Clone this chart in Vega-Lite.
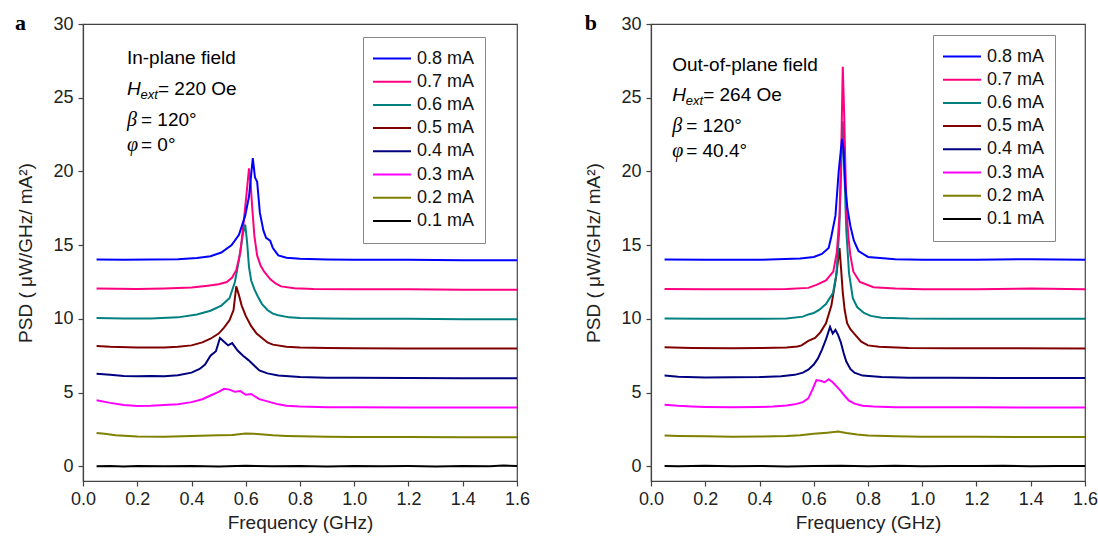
{
"$schema": "https://vega.github.io/schema/vega-lite/v6.json",
"padding": {"left": 14, "top": 11, "right": 5, "bottom": 5},
"background": "white",
"spacing": 134,
"bounds": "flush",
"datasets": {
"a": [
{"c":"0.1 mA","f":0.05,"v":0.0},{"c":"0.1 mA","f":0.1,"v":0.02},{"c":"0.1 mA","f":0.15,"v":-0.02},{"c":"0.1 mA","f":0.2,"v":0.01},{"c":"0.1 mA","f":0.3,"v":0.0},{"c":"0.1 mA","f":0.4,"v":0.02},{"c":"0.1 mA","f":0.5,"v":-0.01},{"c":"0.1 mA","f":0.6,"v":0.03},{"c":"0.1 mA","f":0.7,"v":0.0},{"c":"0.1 mA","f":0.8,"v":0.02},{"c":"0.1 mA","f":0.9,"v":-0.01},{"c":"0.1 mA","f":1.0,"v":0.02},{"c":"0.1 mA","f":1.1,"v":0.0},{"c":"0.1 mA","f":1.2,"v":0.01},{"c":"0.1 mA","f":1.3,"v":-0.01},{"c":"0.1 mA","f":1.4,"v":0.02},{"c":"0.1 mA","f":1.5,"v":0.0},{"c":"0.1 mA","f":1.55,"v":0.05},{"c":"0.1 mA","f":1.6,"v":0.02},
{"c":"0.2 mA","f":0.05,"v":2.25},{"c":"0.2 mA","f":0.08,"v":2.2},{"c":"0.2 mA","f":0.12,"v":2.1},{"c":"0.2 mA","f":0.2,"v":2.02},{"c":"0.2 mA","f":0.3,"v":2.0},{"c":"0.2 mA","f":0.4,"v":2.05},{"c":"0.2 mA","f":0.5,"v":2.1},{"c":"0.2 mA","f":0.55,"v":2.12},{"c":"0.2 mA","f":0.6,"v":2.22},{"c":"0.2 mA","f":0.63,"v":2.2},{"c":"0.2 mA","f":0.7,"v":2.1},{"c":"0.2 mA","f":0.75,"v":2.06},{"c":"0.2 mA","f":0.8,"v":2.03},{"c":"0.2 mA","f":0.9,"v":2.0},{"c":"0.2 mA","f":1.0,"v":1.98},{"c":"0.2 mA","f":1.2,"v":1.98},{"c":"0.2 mA","f":1.4,"v":1.97},{"c":"0.2 mA","f":1.6,"v":1.97},
{"c":"0.3 mA","f":0.05,"v":4.48},{"c":"0.3 mA","f":0.1,"v":4.3},{"c":"0.3 mA","f":0.15,"v":4.15},{"c":"0.3 mA","f":0.2,"v":4.08},{"c":"0.3 mA","f":0.25,"v":4.1},{"c":"0.3 mA","f":0.3,"v":4.15},{"c":"0.3 mA","f":0.35,"v":4.2},{"c":"0.3 mA","f":0.4,"v":4.35},{"c":"0.3 mA","f":0.44,"v":4.55},{"c":"0.3 mA","f":0.47,"v":4.8},{"c":"0.3 mA","f":0.5,"v":5.05},{"c":"0.3 mA","f":0.52,"v":5.25},{"c":"0.3 mA","f":0.54,"v":5.2},{"c":"0.3 mA","f":0.56,"v":5.05},{"c":"0.3 mA","f":0.58,"v":5.1},{"c":"0.3 mA","f":0.6,"v":4.85},{"c":"0.3 mA","f":0.62,"v":4.9},{"c":"0.3 mA","f":0.65,"v":4.55},{"c":"0.3 mA","f":0.68,"v":4.4},{"c":"0.3 mA","f":0.7,"v":4.3},{"c":"0.3 mA","f":0.72,"v":4.2},{"c":"0.3 mA","f":0.75,"v":4.1},{"c":"0.3 mA","f":0.8,"v":4.05},{"c":"0.3 mA","f":0.9,"v":4.0},{"c":"0.3 mA","f":1.0,"v":4.0},{"c":"0.3 mA","f":1.2,"v":3.98},{"c":"0.3 mA","f":1.4,"v":3.98},{"c":"0.3 mA","f":1.6,"v":3.98},
{"c":"0.4 mA","f":0.05,"v":6.28},{"c":"0.4 mA","f":0.1,"v":6.2},{"c":"0.4 mA","f":0.15,"v":6.12},{"c":"0.4 mA","f":0.2,"v":6.1},{"c":"0.4 mA","f":0.25,"v":6.12},{"c":"0.4 mA","f":0.3,"v":6.1},{"c":"0.4 mA","f":0.35,"v":6.18},{"c":"0.4 mA","f":0.4,"v":6.35},{"c":"0.4 mA","f":0.43,"v":6.6},{"c":"0.4 mA","f":0.45,"v":6.9},{"c":"0.4 mA","f":0.47,"v":7.5},{"c":"0.4 mA","f":0.49,"v":7.8},{"c":"0.4 mA","f":0.505,"v":8.7},{"c":"0.4 mA","f":0.52,"v":8.45},{"c":"0.4 mA","f":0.535,"v":8.2},{"c":"0.4 mA","f":0.55,"v":8.35},{"c":"0.4 mA","f":0.57,"v":7.85},{"c":"0.4 mA","f":0.59,"v":7.5},{"c":"0.4 mA","f":0.61,"v":7.2},{"c":"0.4 mA","f":0.63,"v":6.85},{"c":"0.4 mA","f":0.65,"v":6.5},{"c":"0.4 mA","f":0.68,"v":6.3},{"c":"0.4 mA","f":0.72,"v":6.15},{"c":"0.4 mA","f":0.8,"v":6.05},{"c":"0.4 mA","f":0.9,"v":6.0},{"c":"0.4 mA","f":1.0,"v":6.0},{"c":"0.4 mA","f":1.2,"v":5.98},{"c":"0.4 mA","f":1.4,"v":5.97},{"c":"0.4 mA","f":1.6,"v":5.97},
{"c":"0.5 mA","f":0.05,"v":8.15},{"c":"0.5 mA","f":0.1,"v":8.1},{"c":"0.5 mA","f":0.2,"v":8.05},{"c":"0.5 mA","f":0.3,"v":8.05},{"c":"0.5 mA","f":0.35,"v":8.1},{"c":"0.5 mA","f":0.4,"v":8.2},{"c":"0.5 mA","f":0.44,"v":8.4},{"c":"0.5 mA","f":0.47,"v":8.65},{"c":"0.5 mA","f":0.5,"v":9.0},{"c":"0.5 mA","f":0.52,"v":9.4},{"c":"0.5 mA","f":0.54,"v":9.9},{"c":"0.5 mA","f":0.555,"v":10.6},{"c":"0.5 mA","f":0.565,"v":12.2},{"c":"0.5 mA","f":0.575,"v":11.6},{"c":"0.5 mA","f":0.585,"v":10.9},{"c":"0.5 mA","f":0.6,"v":10.2},{"c":"0.5 mA","f":0.62,"v":9.5},{"c":"0.5 mA","f":0.64,"v":9.0},{"c":"0.5 mA","f":0.66,"v":8.7},{"c":"0.5 mA","f":0.68,"v":8.4},{"c":"0.5 mA","f":0.7,"v":8.25},{"c":"0.5 mA","f":0.75,"v":8.1},{"c":"0.5 mA","f":0.8,"v":8.05},{"c":"0.5 mA","f":0.9,"v":8.02},{"c":"0.5 mA","f":1.0,"v":8.0},{"c":"0.5 mA","f":1.2,"v":7.98},{"c":"0.5 mA","f":1.4,"v":7.98},{"c":"0.5 mA","f":1.6,"v":7.98},
{"c":"0.6 mA","f":0.05,"v":10.06},{"c":"0.6 mA","f":0.15,"v":10.03},{"c":"0.6 mA","f":0.25,"v":10.02},{"c":"0.6 mA","f":0.35,"v":10.1},{"c":"0.6 mA","f":0.42,"v":10.3},{"c":"0.6 mA","f":0.47,"v":10.55},{"c":"0.6 mA","f":0.51,"v":10.9},{"c":"0.6 mA","f":0.54,"v":11.4},{"c":"0.6 mA","f":0.56,"v":12.5},{"c":"0.6 mA","f":0.575,"v":14.0},{"c":"0.6 mA","f":0.59,"v":15.8},{"c":"0.6 mA","f":0.598,"v":16.4},{"c":"0.6 mA","f":0.605,"v":15.2},{"c":"0.6 mA","f":0.612,"v":13.5},{"c":"0.6 mA","f":0.62,"v":12.6},{"c":"0.6 mA","f":0.632,"v":12.0},{"c":"0.6 mA","f":0.645,"v":11.5},{"c":"0.6 mA","f":0.66,"v":11.0},{"c":"0.6 mA","f":0.68,"v":10.6},{"c":"0.6 mA","f":0.7,"v":10.35},{"c":"0.6 mA","f":0.72,"v":10.25},{"c":"0.6 mA","f":0.76,"v":10.1},{"c":"0.6 mA","f":0.8,"v":10.05},{"c":"0.6 mA","f":0.9,"v":10.02},{"c":"0.6 mA","f":1.0,"v":10.0},{"c":"0.6 mA","f":1.2,"v":10.0},{"c":"0.6 mA","f":1.4,"v":9.98},{"c":"0.6 mA","f":1.6,"v":9.98},
{"c":"0.7 mA","f":0.05,"v":12.05},{"c":"0.7 mA","f":0.2,"v":12.02},{"c":"0.7 mA","f":0.3,"v":12.05},{"c":"0.7 mA","f":0.4,"v":12.12},{"c":"0.7 mA","f":0.46,"v":12.25},{"c":"0.7 mA","f":0.5,"v":12.35},{"c":"0.7 mA","f":0.53,"v":12.5},{"c":"0.7 mA","f":0.55,"v":12.8},{"c":"0.7 mA","f":0.565,"v":13.3},{"c":"0.7 mA","f":0.58,"v":14.5},{"c":"0.7 mA","f":0.592,"v":16.5},{"c":"0.7 mA","f":0.603,"v":18.5},{"c":"0.7 mA","f":0.612,"v":20.2},{"c":"0.7 mA","f":0.618,"v":19.2},{"c":"0.7 mA","f":0.624,"v":17.5},{"c":"0.7 mA","f":0.632,"v":15.6},{"c":"0.7 mA","f":0.642,"v":14.3},{"c":"0.7 mA","f":0.655,"v":13.6},{"c":"0.7 mA","f":0.668,"v":13.2},{"c":"0.7 mA","f":0.69,"v":12.7},{"c":"0.7 mA","f":0.71,"v":12.4},{"c":"0.7 mA","f":0.73,"v":12.2},{"c":"0.7 mA","f":0.78,"v":12.08},{"c":"0.7 mA","f":0.85,"v":12.03},{"c":"0.7 mA","f":1.0,"v":12.0},{"c":"0.7 mA","f":1.2,"v":12.0},{"c":"0.7 mA","f":1.4,"v":11.98},{"c":"0.7 mA","f":1.6,"v":11.98},
{"c":"0.8 mA","f":0.05,"v":14.03},{"c":"0.8 mA","f":0.15,"v":14.0},{"c":"0.8 mA","f":0.25,"v":14.02},{"c":"0.8 mA","f":0.35,"v":14.05},{"c":"0.8 mA","f":0.42,"v":14.12},{"c":"0.8 mA","f":0.47,"v":14.25},{"c":"0.8 mA","f":0.51,"v":14.5},{"c":"0.8 mA","f":0.548,"v":15.0},{"c":"0.8 mA","f":0.575,"v":15.7},{"c":"0.8 mA","f":0.598,"v":17.0},{"c":"0.8 mA","f":0.612,"v":18.3},{"c":"0.8 mA","f":0.626,"v":20.9},{"c":"0.8 mA","f":0.634,"v":19.6},{"c":"0.8 mA","f":0.642,"v":19.3},{"c":"0.8 mA","f":0.652,"v":17.2},{"c":"0.8 mA","f":0.665,"v":16.0},{"c":"0.8 mA","f":0.675,"v":15.5},{"c":"0.8 mA","f":0.69,"v":15.3},{"c":"0.8 mA","f":0.7,"v":14.8},{"c":"0.8 mA","f":0.72,"v":14.3},{"c":"0.8 mA","f":0.75,"v":14.15},{"c":"0.8 mA","f":0.8,"v":14.08},{"c":"0.8 mA","f":0.9,"v":14.03},{"c":"0.8 mA","f":1.0,"v":14.0},{"c":"0.8 mA","f":1.2,"v":14.0},{"c":"0.8 mA","f":1.4,"v":13.98},{"c":"0.8 mA","f":1.6,"v":13.98}
],
"b": [
{"c":"0.1 mA","f":0.05,"v":0.02},{"c":"0.1 mA","f":0.1,"v":0.0},{"c":"0.1 mA","f":0.2,"v":0.03},{"c":"0.1 mA","f":0.3,"v":0.0},{"c":"0.1 mA","f":0.4,"v":0.02},{"c":"0.1 mA","f":0.5,"v":-0.01},{"c":"0.1 mA","f":0.6,"v":0.02},{"c":"0.1 mA","f":0.7,"v":0.04},{"c":"0.1 mA","f":0.8,"v":0.0},{"c":"0.1 mA","f":0.9,"v":0.03},{"c":"0.1 mA","f":1.0,"v":0.0},{"c":"0.1 mA","f":1.1,"v":0.02},{"c":"0.1 mA","f":1.2,"v":0.01},{"c":"0.1 mA","f":1.3,"v":0.03},{"c":"0.1 mA","f":1.4,"v":0.0},{"c":"0.1 mA","f":1.5,"v":0.02},{"c":"0.1 mA","f":1.6,"v":0.01},
{"c":"0.2 mA","f":0.05,"v":2.08},{"c":"0.2 mA","f":0.1,"v":2.05},{"c":"0.2 mA","f":0.2,"v":2.03},{"c":"0.2 mA","f":0.3,"v":2.0},{"c":"0.2 mA","f":0.4,"v":2.02},{"c":"0.2 mA","f":0.5,"v":2.05},{"c":"0.2 mA","f":0.55,"v":2.1},{"c":"0.2 mA","f":0.6,"v":2.2},{"c":"0.2 mA","f":0.65,"v":2.28},{"c":"0.2 mA","f":0.69,"v":2.35},{"c":"0.2 mA","f":0.72,"v":2.25},{"c":"0.2 mA","f":0.76,"v":2.15},{"c":"0.2 mA","f":0.8,"v":2.08},{"c":"0.2 mA","f":0.9,"v":2.03},{"c":"0.2 mA","f":1.0,"v":2.0},{"c":"0.2 mA","f":1.2,"v":2.0},{"c":"0.2 mA","f":1.4,"v":1.98},{"c":"0.2 mA","f":1.6,"v":1.98},
{"c":"0.3 mA","f":0.05,"v":4.18},{"c":"0.3 mA","f":0.1,"v":4.1},{"c":"0.3 mA","f":0.15,"v":4.05},{"c":"0.3 mA","f":0.2,"v":4.02},{"c":"0.3 mA","f":0.3,"v":4.0},{"c":"0.3 mA","f":0.4,"v":4.02},{"c":"0.3 mA","f":0.45,"v":4.05},{"c":"0.3 mA","f":0.5,"v":4.12},{"c":"0.3 mA","f":0.53,"v":4.2},{"c":"0.3 mA","f":0.56,"v":4.35},{"c":"0.3 mA","f":0.58,"v":4.6},{"c":"0.3 mA","f":0.595,"v":5.2},{"c":"0.3 mA","f":0.61,"v":5.85},{"c":"0.3 mA","f":0.625,"v":5.8},{"c":"0.3 mA","f":0.64,"v":5.7},{"c":"0.3 mA","f":0.655,"v":5.9},{"c":"0.3 mA","f":0.67,"v":5.7},{"c":"0.3 mA","f":0.685,"v":5.4},{"c":"0.3 mA","f":0.7,"v":5.1},{"c":"0.3 mA","f":0.715,"v":4.75},{"c":"0.3 mA","f":0.73,"v":4.45},{"c":"0.3 mA","f":0.75,"v":4.25},{"c":"0.3 mA","f":0.78,"v":4.1},{"c":"0.3 mA","f":0.82,"v":4.05},{"c":"0.3 mA","f":0.9,"v":4.0},{"c":"0.3 mA","f":1.0,"v":4.0},{"c":"0.3 mA","f":1.2,"v":4.0},{"c":"0.3 mA","f":1.4,"v":3.98},{"c":"0.3 mA","f":1.6,"v":3.98},
{"c":"0.4 mA","f":0.05,"v":6.15},{"c":"0.4 mA","f":0.1,"v":6.08},{"c":"0.4 mA","f":0.2,"v":6.02},{"c":"0.4 mA","f":0.3,"v":6.03},{"c":"0.4 mA","f":0.4,"v":6.05},{"c":"0.4 mA","f":0.48,"v":6.1},{"c":"0.4 mA","f":0.53,"v":6.2},{"c":"0.4 mA","f":0.56,"v":6.35},{"c":"0.4 mA","f":0.58,"v":6.55},{"c":"0.4 mA","f":0.6,"v":6.9},{"c":"0.4 mA","f":0.615,"v":7.3},{"c":"0.4 mA","f":0.63,"v":7.9},{"c":"0.4 mA","f":0.645,"v":8.6},{"c":"0.4 mA","f":0.66,"v":9.45},{"c":"0.4 mA","f":0.67,"v":9.0},{"c":"0.4 mA","f":0.68,"v":9.25},{"c":"0.4 mA","f":0.69,"v":8.9},{"c":"0.4 mA","f":0.7,"v":8.4},{"c":"0.4 mA","f":0.71,"v":7.7},{"c":"0.4 mA","f":0.72,"v":7.1},{"c":"0.4 mA","f":0.735,"v":6.6},{"c":"0.4 mA","f":0.75,"v":6.35},{"c":"0.4 mA","f":0.78,"v":6.15},{"c":"0.4 mA","f":0.85,"v":6.05},{"c":"0.4 mA","f":0.95,"v":6.0},{"c":"0.4 mA","f":1.1,"v":6.0},{"c":"0.4 mA","f":1.3,"v":5.99},{"c":"0.4 mA","f":1.6,"v":5.98},
{"c":"0.5 mA","f":0.05,"v":8.08},{"c":"0.5 mA","f":0.15,"v":8.03},{"c":"0.5 mA","f":0.3,"v":8.0},{"c":"0.5 mA","f":0.4,"v":8.02},{"c":"0.5 mA","f":0.5,"v":8.05},{"c":"0.5 mA","f":0.54,"v":8.12},{"c":"0.5 mA","f":0.555,"v":8.2},{"c":"0.5 mA","f":0.58,"v":8.5},{"c":"0.5 mA","f":0.605,"v":8.7},{"c":"0.5 mA","f":0.625,"v":9.1},{"c":"0.5 mA","f":0.645,"v":9.7},{"c":"0.5 mA","f":0.665,"v":10.9},{"c":"0.5 mA","f":0.682,"v":12.8},{"c":"0.5 mA","f":0.695,"v":14.8},{"c":"0.5 mA","f":0.7,"v":13.6},{"c":"0.5 mA","f":0.707,"v":11.8},{"c":"0.5 mA","f":0.714,"v":10.6},{"c":"0.5 mA","f":0.723,"v":9.7},{"c":"0.5 mA","f":0.735,"v":9.3},{"c":"0.5 mA","f":0.749,"v":9.0},{"c":"0.5 mA","f":0.775,"v":8.45},{"c":"0.5 mA","f":0.8,"v":8.2},{"c":"0.5 mA","f":0.84,"v":8.1},{"c":"0.5 mA","f":0.95,"v":8.02},{"c":"0.5 mA","f":1.1,"v":8.0},{"c":"0.5 mA","f":1.3,"v":8.0},{"c":"0.5 mA","f":1.6,"v":7.98},
{"c":"0.6 mA","f":0.05,"v":10.02},{"c":"0.6 mA","f":0.2,"v":10.0},{"c":"0.6 mA","f":0.35,"v":10.0},{"c":"0.6 mA","f":0.5,"v":10.03},{"c":"0.6 mA","f":0.56,"v":10.15},{"c":"0.6 mA","f":0.58,"v":10.3},{"c":"0.6 mA","f":0.6,"v":10.4},{"c":"0.6 mA","f":0.62,"v":10.6},{"c":"0.6 mA","f":0.645,"v":11.0},{"c":"0.6 mA","f":0.671,"v":11.75},{"c":"0.6 mA","f":0.684,"v":13.1},{"c":"0.6 mA","f":0.694,"v":16.0},{"c":"0.6 mA","f":0.701,"v":20.0},{"c":"0.6 mA","f":0.707,"v":23.4},{"c":"0.6 mA","f":0.713,"v":20.0},{"c":"0.6 mA","f":0.72,"v":16.0},{"c":"0.6 mA","f":0.73,"v":13.1},{"c":"0.6 mA","f":0.744,"v":11.4},{"c":"0.6 mA","f":0.76,"v":10.8},{"c":"0.6 mA","f":0.785,"v":10.4},{"c":"0.6 mA","f":0.81,"v":10.2},{"c":"0.6 mA","f":0.85,"v":10.08},{"c":"0.6 mA","f":0.95,"v":10.02},{"c":"0.6 mA","f":1.1,"v":10.0},{"c":"0.6 mA","f":1.3,"v":10.0},{"c":"0.6 mA","f":1.6,"v":10.0},
{"c":"0.7 mA","f":0.05,"v":12.02},{"c":"0.7 mA","f":0.2,"v":12.0},{"c":"0.7 mA","f":0.35,"v":12.0},{"c":"0.7 mA","f":0.5,"v":12.02},{"c":"0.7 mA","f":0.58,"v":12.1},{"c":"0.7 mA","f":0.61,"v":12.3},{"c":"0.7 mA","f":0.645,"v":12.6},{"c":"0.7 mA","f":0.672,"v":13.2},{"c":"0.7 mA","f":0.685,"v":14.5},{"c":"0.7 mA","f":0.695,"v":17.0},{"c":"0.7 mA","f":0.701,"v":21.0},{"c":"0.7 mA","f":0.707,"v":27.1},{"c":"0.7 mA","f":0.712,"v":24.0},{"c":"0.7 mA","f":0.717,"v":20.0},{"c":"0.7 mA","f":0.722,"v":17.0},{"c":"0.7 mA","f":0.728,"v":15.5},{"c":"0.7 mA","f":0.735,"v":14.3},{"c":"0.7 mA","f":0.746,"v":13.2},{"c":"0.7 mA","f":0.77,"v":12.5},{"c":"0.7 mA","f":0.82,"v":12.15},{"c":"0.7 mA","f":0.9,"v":12.05},{"c":"0.7 mA","f":1.0,"v":12.0},{"c":"0.7 mA","f":1.2,"v":12.0},{"c":"0.7 mA","f":1.4,"v":12.05},{"c":"0.7 mA","f":1.6,"v":12.0},
{"c":"0.8 mA","f":0.05,"v":14.02},{"c":"0.8 mA","f":0.2,"v":14.0},{"c":"0.8 mA","f":0.4,"v":14.0},{"c":"0.8 mA","f":0.55,"v":14.1},{"c":"0.8 mA","f":0.6,"v":14.2},{"c":"0.8 mA","f":0.63,"v":14.4},{"c":"0.8 mA","f":0.655,"v":14.8},{"c":"0.8 mA","f":0.665,"v":15.6},{"c":"0.8 mA","f":0.68,"v":17.0},{"c":"0.8 mA","f":0.692,"v":20.0},{"c":"0.8 mA","f":0.704,"v":22.2},{"c":"0.8 mA","f":0.71,"v":21.5},{"c":"0.8 mA","f":0.716,"v":19.0},{"c":"0.8 mA","f":0.724,"v":17.5},{"c":"0.8 mA","f":0.735,"v":16.3},{"c":"0.8 mA","f":0.748,"v":15.3},{"c":"0.8 mA","f":0.765,"v":14.6},{"c":"0.8 mA","f":0.8,"v":14.2},{"c":"0.8 mA","f":0.9,"v":14.05},{"c":"0.8 mA","f":1.0,"v":14.0},{"c":"0.8 mA","f":1.2,"v":14.0},{"c":"0.8 mA","f":1.4,"v":14.05},{"c":"0.8 mA","f":1.6,"v":14.0}
]
},
"hconcat": [
{
"width": 434, "height": 457,
"layer": [
{"data": {"name": "a"},
 "mark": {"type": "line", "strokeWidth": 2, "clip": true},
 "encoding": {
  "x": {"field": "f", "type": "quantitative", "scale": {"domain": [0, 1.6], "nice": false, "zero": false},
   "axis": {"title": "Frequency (GHz)", "values": [0,0.1,0.2,0.3,0.4,0.5,0.6,0.7,0.8,0.9,1.0,1.1,1.2,1.3,1.4,1.5,1.6],
    "labelExpr": "round(datum.value*10) % 2 === 0 ? format(datum.value, '.1f') : ''",
    "tickSize": {"condition": {"test": "round(datum.value*10) % 2 === 0", "value": 5}, "value": 3}}},
  "y": {"field": "v", "type": "quantitative", "scale": {"domain": [-1, 30], "nice": false, "zero": false},
   "axis": {"title": "PSD ( μW/GHz/ mA²)", "values": [0,2.5,5,7.5,10,12.5,15,17.5,20,22.5,25,27.5,30],
    "labelExpr": "datum.value % 5 === 0 ? format(datum.value, 'd') : ''",
    "tickSize": {"condition": {"test": "datum.value % 5 === 0", "value": 5}, "value": 3}}},
  "color": {"field": "c", "type": "nominal",
   "scale": {"domain": ["0.8 mA","0.7 mA","0.6 mA","0.5 mA","0.4 mA","0.3 mA","0.2 mA","0.1 mA"],
             "range": ["#0000FF","#FF0080","#008080","#800000","#000080","#FF00FF","#808000","#000000"]},
   "legend": {"orient": "none", "legendX": 280, "legendY": 13}}
 }},
{"data": {"values": [{}]}, "mark": {"type": "text", "font": "Liberation Serif", "fontWeight": "bold", "fontSize": 22, "align": "center", "baseline": "alphabetic"},
 "encoding": {"x": {"datum": -0.23}, "y": {"datum": 29.6}, "text": {"value": "a"}}},
{"data": {"values": [{}]}, "mark": {"type": "text", "font": "Liberation Sans", "fontSize": 19, "align": "left", "baseline": "middle"},
 "encoding": {"x": {"datum": 0.162}, "y": {"datum": 27.7}, "text": {"value": "In-plane field"}}},
{"data": {"values": [{}]}, "mark": {"type": "text", "font": "Liberation Sans", "fontSize": 19, "fontStyle": "italic", "align": "left", "baseline": "middle"},
 "encoding": {"x": {"datum": 0.162}, "y": {"datum": 25.6}, "text": {"value": "H"}}},
{"data": {"values": [{}]}, "mark": {"type": "text", "font": "Liberation Sans", "fontSize": 13, "fontStyle": "italic", "align": "left", "baseline": "middle", "dx": 13.5, "dy": 6.5},
 "encoding": {"x": {"datum": 0.162}, "y": {"datum": 25.6}, "text": {"value": "ext"}}},
{"data": {"values": [{}]}, "mark": {"type": "text", "font": "Liberation Sans", "fontSize": 19, "align": "left", "baseline": "middle", "dx": 31},
 "encoding": {"x": {"datum": 0.162}, "y": {"datum": 25.6}, "text": {"value": "= 220 Oe"}}},
{"data": {"values": [{}]}, "mark": {"type": "text", "font": "Liberation Serif", "fontSize": 20, "fontStyle": "italic", "align": "left", "baseline": "middle"},
 "encoding": {"x": {"datum": 0.162}, "y": {"datum": 23.5}, "text": {"value": "β"}}},
{"data": {"values": [{}]}, "mark": {"type": "text", "font": "Liberation Sans", "fontSize": 19, "align": "left", "baseline": "middle", "dx": 14},
 "encoding": {"x": {"datum": 0.162}, "y": {"datum": 23.5}, "text": {"value": "= 120°"}}},
{"data": {"values": [{}]}, "mark": {"type": "text", "font": "Liberation Serif", "fontSize": 20, "fontStyle": "italic", "align": "left", "baseline": "middle"},
 "encoding": {"x": {"datum": 0.162}, "y": {"datum": 21.8}, "text": {"value": "φ"}}},
{"data": {"values": [{}]}, "mark": {"type": "text", "font": "Liberation Sans", "fontSize": 19, "align": "left", "baseline": "middle", "dx": 14},
 "encoding": {"x": {"datum": 0.162}, "y": {"datum": 21.8}, "text": {"value": "= 0°"}}}
]
},
{
"width": 434, "height": 457,
"layer": [
{"data": {"name": "b"},
 "mark": {"type": "line", "strokeWidth": 2, "clip": true},
 "encoding": {
  "x": {"field": "f", "type": "quantitative", "scale": {"domain": [0, 1.6], "nice": false, "zero": false},
   "axis": {"title": "Frequency (GHz)", "values": [0,0.1,0.2,0.3,0.4,0.5,0.6,0.7,0.8,0.9,1.0,1.1,1.2,1.3,1.4,1.5,1.6],
    "labelExpr": "round(datum.value*10) % 2 === 0 ? format(datum.value, '.1f') : ''",
    "tickSize": {"condition": {"test": "round(datum.value*10) % 2 === 0", "value": 5}, "value": 3}}},
  "y": {"field": "v", "type": "quantitative", "scale": {"domain": [-1, 30], "nice": false, "zero": false},
   "axis": {"title": "PSD ( μW/GHz/ mA²)", "values": [0,2.5,5,7.5,10,12.5,15,17.5,20,22.5,25,27.5,30],
    "labelExpr": "datum.value % 5 === 0 ? format(datum.value, 'd') : ''",
    "tickSize": {"condition": {"test": "datum.value % 5 === 0", "value": 5}, "value": 3}}},
  "color": {"field": "c", "type": "nominal",
   "scale": {"domain": ["0.8 mA","0.7 mA","0.6 mA","0.5 mA","0.4 mA","0.3 mA","0.2 mA","0.1 mA"],
             "range": ["#0000FF","#FF0080","#008080","#800000","#000080","#FF00FF","#808000","#000000"]},
   "legend": {"orient": "none", "legendX": 282, "legendY": 11}}
 }},
{"data": {"values": [{}]}, "mark": {"type": "text", "font": "Liberation Serif", "fontWeight": "bold", "fontSize": 22, "align": "center", "baseline": "alphabetic"},
 "encoding": {"x": {"datum": -0.222}, "y": {"datum": 29.6}, "text": {"value": "b"}}},
{"data": {"values": [{}]}, "mark": {"type": "text", "font": "Liberation Sans", "fontSize": 19, "align": "left", "baseline": "middle"},
 "encoding": {"x": {"datum": 0.078}, "y": {"datum": 27.2}, "text": {"value": "Out-of-plane field"}}},
{"data": {"values": [{}]}, "mark": {"type": "text", "font": "Liberation Sans", "fontSize": 19, "fontStyle": "italic", "align": "left", "baseline": "middle"},
 "encoding": {"x": {"datum": 0.078}, "y": {"datum": 25.2}, "text": {"value": "H"}}},
{"data": {"values": [{}]}, "mark": {"type": "text", "font": "Liberation Sans", "fontSize": 13, "fontStyle": "italic", "align": "left", "baseline": "middle", "dx": 13.5, "dy": 6.5},
 "encoding": {"x": {"datum": 0.078}, "y": {"datum": 25.2}, "text": {"value": "ext"}}},
{"data": {"values": [{}]}, "mark": {"type": "text", "font": "Liberation Sans", "fontSize": 19, "align": "left", "baseline": "middle", "dx": 31},
 "encoding": {"x": {"datum": 0.078}, "y": {"datum": 25.2}, "text": {"value": "= 264 Oe"}}},
{"data": {"values": [{}]}, "mark": {"type": "text", "font": "Liberation Serif", "fontSize": 20, "fontStyle": "italic", "align": "left", "baseline": "middle"},
 "encoding": {"x": {"datum": 0.078}, "y": {"datum": 23.1}, "text": {"value": "β"}}},
{"data": {"values": [{}]}, "mark": {"type": "text", "font": "Liberation Sans", "fontSize": 19, "align": "left", "baseline": "middle", "dx": 14},
 "encoding": {"x": {"datum": 0.078}, "y": {"datum": 23.1}, "text": {"value": "= 120°"}}},
{"data": {"values": [{}]}, "mark": {"type": "text", "font": "Liberation Serif", "fontSize": 20, "fontStyle": "italic", "align": "left", "baseline": "middle"},
 "encoding": {"x": {"datum": 0.078}, "y": {"datum": 21.4}, "text": {"value": "φ"}}},
{"data": {"values": [{}]}, "mark": {"type": "text", "font": "Liberation Sans", "fontSize": 19, "align": "left", "baseline": "middle", "dx": 14},
 "encoding": {"x": {"datum": 0.078}, "y": {"datum": 21.4}, "text": {"value": "= 40.4°"}}}
]
}
],
"resolve": {"scale": {"x": "independent", "y": "independent", "color": "independent"}, "legend": {"color": "independent"}, "axis": {"x": "independent", "y": "independent"}},
"config": {
 "view": {"stroke": "#444", "strokeWidth": 1.2},
 "axis": {"grid": false, "labelFont": "Liberation Sans", "labelFontSize": 18, "labelColor": "#222", "titleFont": "Liberation Sans", "titleFontSize": 19, "titleFontWeight": "normal", "titleColor": "#222", "domainColor": "#444", "domainWidth": 1.2, "tickColor": "#444", "tickWidth": 1.2, "labelOverlap": false, "labelFlush": false, "labelPadding": 4},
 "axisX": {"titlePadding": 5},
 "axisY": {"titlePadding": 17, "labelPadding": 5},
 "legend": {"title": null, "symbolType": "stroke", "symbolSize": 1764, "symbolStrokeWidth": 2, "symbolOpacity": 1, "symbolOffset": -5, "clipHeight": 23, "rowPadding": 0.2, "labelFont": "Liberation Sans", "labelFontSize": 18, "labelColor": "#111", "labelOffset": 5, "labelLimit": 200, "padding": 10, "strokeColor": "#888", "fillColor": "white"}
}
}
